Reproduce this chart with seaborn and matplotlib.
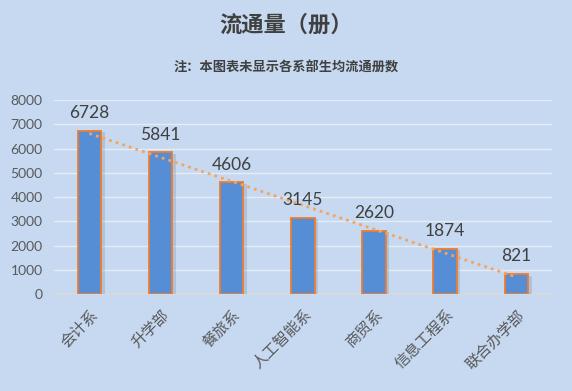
import matplotlib
matplotlib.use("Agg")
import matplotlib.pyplot as plt
import matplotlib.patheffects as pe
import seaborn as sns
import numpy as np
import pandas as pd

categories = ["会计系", "升学部", "餐旅系", "人工智能系", "商贸系", "信息工程系", "联合办学部"]
values = [6728, 5841, 4606, 3145, 2620, 1874, 821]
yticks = [0, 1000, 2000, 3000, 4000, 5000, 6000, 7000, 8000]
title = "流通量（册）"
subtitle = "注：本图表未显示各系部生均流通册数"

sns.set_theme(style="white")
plt.rcParams['font.family'] = ['Noto Sans CJK SC', 'DejaVu Sans']

bg = "#C6D9F1"
fig = plt.figure(figsize=(5.72, 3.91), dpi=100, facecolor=bg)
ax = fig.add_axes([0.094, 0.248, 0.871, 0.496], facecolor=bg)

df = pd.DataFrame({"cat": categories, "val": values})
sns.barplot(data=df, x="cat", y="val", color="#558ED5", width=0.33,
            edgecolor="#ED7D31", linewidth=1.3, saturation=1, ax=ax, zorder=3)
for p in ax.patches:
    p.set_path_effects([pe.SimplePatchShadow(offset=(2.5, -1), shadow_rgbFace="#8090A8", alpha=0.3), pe.Normal()])

# linear trendline
x = np.arange(len(values))
k, b = np.polyfit(x, values, 1)
ax.plot(x, k * x + b, linestyle=(0, (1, 1.5)), color="#F7A35C", linewidth=2.0, zorder=4)

for xi, v in zip(x, values):
    ax.annotate(str(v), (xi, v), xytext=(0, 7), textcoords="offset points",
                ha="center", va="bottom", fontsize=12.5, color="#404040",
                family=['Lato', 'DejaVu Sans'], zorder=5)

ax.set_ylim(0, 8000)
ax.set_xlim(-0.5, len(values) - 0.5)
ax.set_yticks(yticks)
ax.set_yticklabels([str(t) for t in yticks], fontsize=10, color="#595959", family=['Lato', 'DejaVu Sans'])
ax.set_xticks(x)
ax.set_xticklabels(categories, rotation=45, ha="right", rotation_mode="anchor",
                   fontsize=11, color="#595959")
for lbl in ax.get_xticklabels():
    lbl.set_transform(lbl.get_transform() + matplotlib.transforms.ScaledTranslation(-6/100, 0, fig.dpi_scale_trans))
ax.tick_params(axis="x", length=0, pad=9)
ax.tick_params(axis="y", length=0, pad=8)
ax.set_xlabel("")
ax.set_ylabel("")
ax.yaxis.grid(True, color="#E6ECF5", linewidth=1, zorder=0)
ax.set_axisbelow(True)
for s in ["top", "right", "left"]:
    ax.spines[s].set_visible(False)
ax.spines["bottom"].set_color("#D9D9D9")
ax.spines["bottom"].set_zorder(2)

fig.text(0.5, 0.935, title, ha="center", va="center", fontsize=16, fontweight="bold", color="#404040")
fig.text(0.5, 0.828, subtitle, ha="center", va="center", fontsize=9.5, fontweight="bold", color="#404040")

fig.savefig("out.png", dpi=100, facecolor=bg)
